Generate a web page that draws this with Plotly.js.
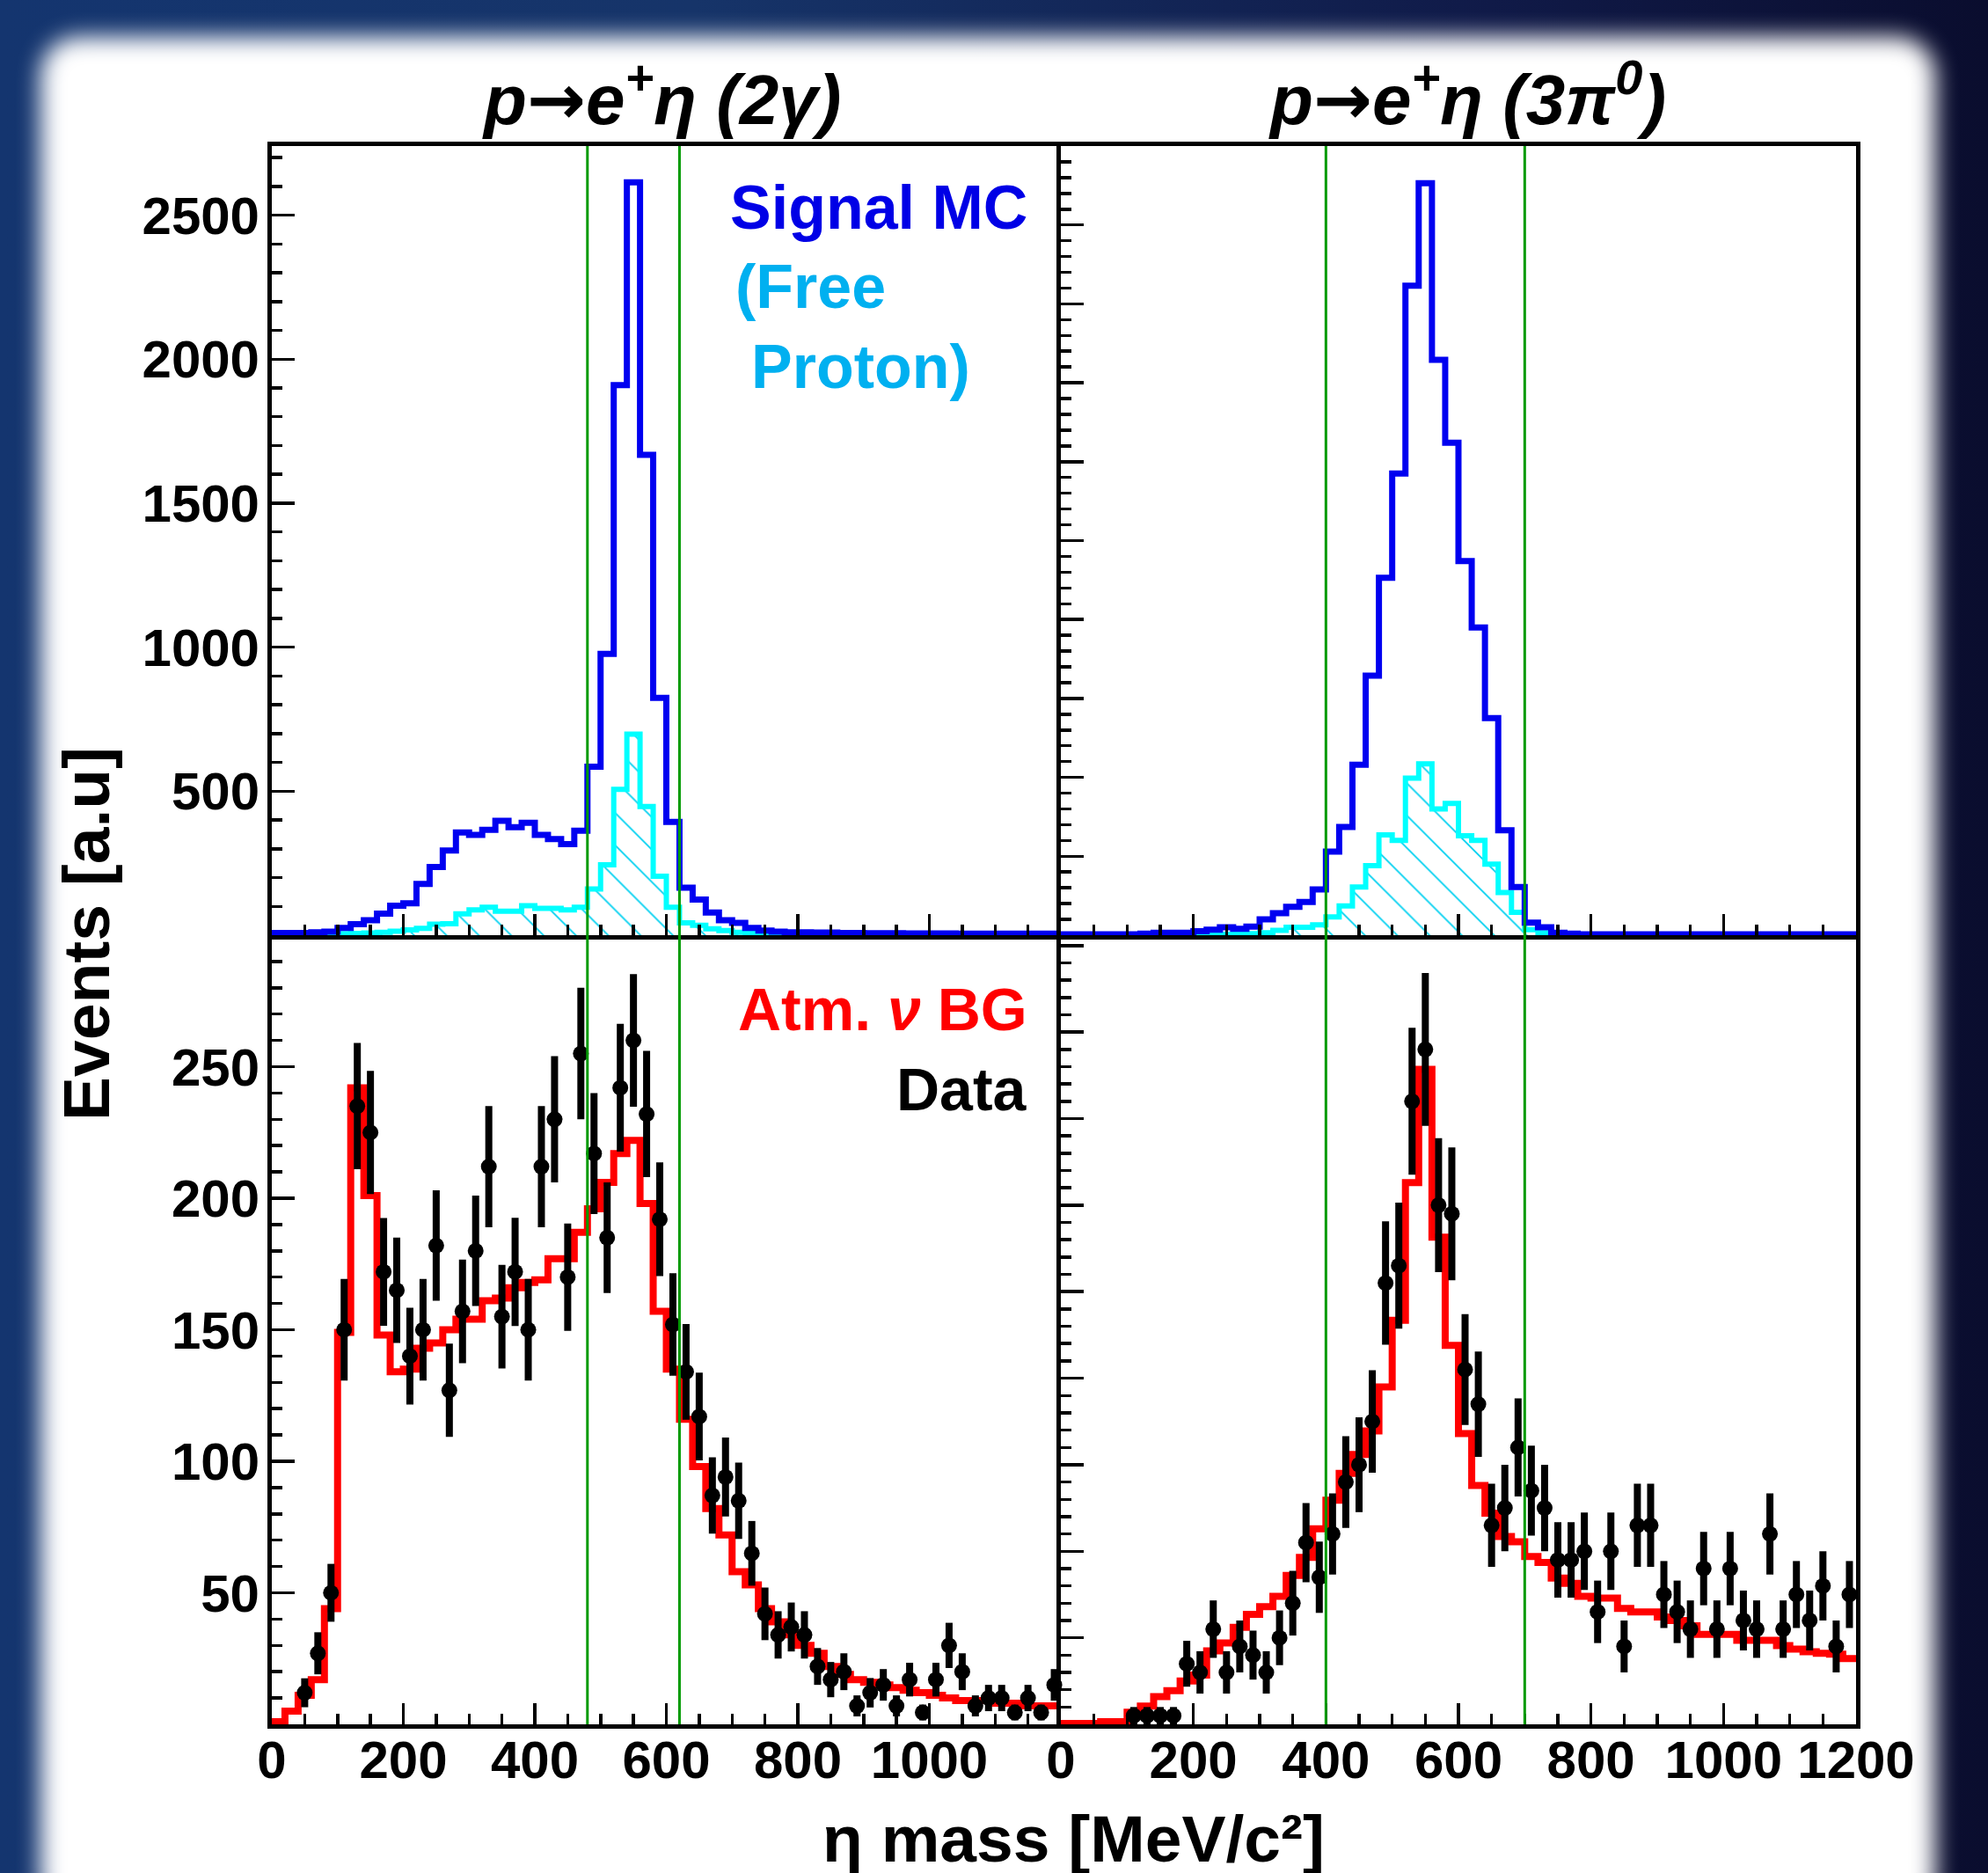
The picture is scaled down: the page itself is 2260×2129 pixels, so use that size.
<!DOCTYPE html>
<html><head><meta charset="utf-8">
<script src="https://cdn.plot.ly/plotly-3.0.1.min.js"></script>
<style>
html,body{margin:0;padding:0;}
body{width:2260px;height:2129px;overflow:hidden;position:relative;
 background:linear-gradient(to right,#14356f 0%,#163469 35%,#101a48 75%,#0a0d2e 100%);}
#card{position:absolute;left:46px;top:42px;width:2154px;height:2140px;background:#fff;border-radius:44px;filter:blur(13px);}
#plot{position:absolute;left:0;top:0;width:2260px;height:2129px;}
</style></head><body><div id="card"></div><div id="plot"></div>
<script>
// ---------------- data (20 MeV bins, 0-1200 MeV) ----------------
const nBins = 60, binWidth = 20;
const massEdges = Array.from({length: nBins + 1}, (_, i) => i * binWidth);
const massCenters = Array.from({length: nBins}, (_, i) => i * binWidth + binWidth / 2);

// p -> e+ eta (2gamma): signal MC (all) and free-proton component
const sig2gAll = [8,8,8,10,12,25,38,52,75,102,
  111,178,237,294,357,348,366,397,375,390,
  348,334,316,363,585,977,1910,2614,1668,824,
  393,165,124,79,52,43,25,16,12,10,
  10,9,9,8,8,7,7,7,6,6,
  6,6,5,5,5,5,5,5,5,5];
const sig2gFree = [2,2,2,3,3,5,6,8,10,14,
  18,24,38,40,74,88,97,83,83,102,
  93,93,88,97,160,244,506,698,447,205,
  97,43,34,22,16,10,8,6,5,4,
  4,3,3,3,3,2,2,2,2,2,
  2,2,2,2,2,2,2,2,2,2];
// p -> e+ eta (3pi0)
const sig3pAll = [1,1,1,1,1,1,2,3,3,3,
  5,7,10,8,11,20,28,36,42,58,
  106,137,216,329,453,585,823,953,729,624,
  474,390,275,133,61,16,10,3,2,1,
  1,1,1,1,1,1,1,1,1,1,
  1,1,1,1,1,1,1,1,1,1];
const sig3pFree = [0,0,0,0,0,0,0,0,0,1,
  1,1,1,1,2,3,6,10,10,13,
  23,37,61,88,127,120,199,217,160,167,
  126,120,90,54,29,7,3,1,0,0,
  0,0,0,0,0,0,0,0,0,0,
  0,0,0,0,0,0,0,0,0,0];

// Atmospheric neutrino background MC
const bg2g = [1,5,11,17,44,149,242,201,148,134,
  135,143,145,150,154,154,161,162,166,168,
  169,177,177,187,196,206,217,222,198,157,
  135,116,98,82,72,58,53,44,39,34,
  30,27,22,19,17,16,15,14,13,12,
  11,10,9,9,9,8,8,7,7,7];
const bg3p = [0.1,0.1,0.1,0.3,0.3,1.4,2.1,3.2,3.9,5.0,
  5.7,8.5,9.4,11.2,12.7,13.6,14.8,17.2,19.3,22.6,
  25.9,29.0,31.2,33.9,39.0,46.7,62.6,75.7,56.3,43.8,
  33.6,27.6,24.4,21.7,21.1,19.4,18.7,16.9,16.3,14.8,
  14.6,14.6,13.4,13.0,13.0,12.4,12.0,11.4,10.4,10.4,
  10.4,9.7,9.7,9.7,9.1,8.7,8.4,8.2,8.1,7.6];

// Data
const data2g = [null,null,12,27,50,150,235,225,172,165,
  140,150,182,127,157,180,212,155,172,150,
  212,230,170,255,217,185,242,260,232,192,
  152,134,117,87,94,85,65,42,34,37,
  34,22,17,20,7,12,15,7,17,4.5,
  17,30,20,7,10,10,4.5,10,4.5,15];
const data2gErr = [null,null,5.5,8,11,19.3,24,23.4,20.5,20,
  18.4,19.3,21,17.7,19.7,21,23,19.7,20.6,19.3,
  23,24,20.4,25,23,21,24.3,25.2,24,21.6,
  19.5,18.2,16.7,14.5,15,14.5,12.3,10,9,9.3,
  9,7,6.7,7,4,5.6,6,4,6.4,3,
  6.4,8.6,7,4,5,5,3,5,3,6];
const data3p = [null,null,null,null,null,1,1,1,1,7,
  6,11,6,9,8,6,10,14,21,17,
  22,28,30,35,51,53,72,78,60,59,
  41,37,23,25,32,27,25,19,19,20,
  13,20,9,23,23,15,13,11,18,11,
  18,12,11,22,11,15,12,16,9,15];
const data3pErr = [null,null,null,null,null,1,1,1,1,2.65,
  2.45,3.32,2.45,3,2.83,2.45,3.16,3.74,4.58,4.12,
  4.69,5.29,5.48,5.92,7.14,7.28,8.49,8.83,7.75,7.68,
  6.4,6.08,4.8,5,5.66,5.2,5,4.36,4.36,4.47,
  3.61,4.47,3,4.8,4.8,3.87,3.61,3.32,4.24,3.32,
  4.24,3.46,3.32,4.69,3.32,3.87,3.46,4,3,3.87];

// selection windows [MeV]
const cut2g = [480, 620];
const cut3p = [400, 700];

// tick labels
const xTicksLeft = [0,200,400,600,800,1000];
const xTicksRight = [0,200,400,600,800,1000,1200];
const yTicksTop = [500,1000,1500,2000,2500];
const yTicksBottom = [50,100,150,200,250];

// ---------------- drawing ----------------
const FONT = 'Liberation Sans, Arial, sans-serif';
const stepY = v => v.concat([v[v.length - 1]]);

const BLUE = '#0000f0', CYAN = '#00ffff', RED = '#ff0000', GREEN = '#009a00';

function hist(vals, color, width, xa, ya, hatch) {
  const t = {x: massEdges, y: stepY(vals), mode: 'lines', type: 'scatter',
    line: {shape: 'hv', color: color, width: width}, xaxis: xa, yaxis: ya,
    hoverinfo: 'skip', showlegend: false};
  if (hatch) {
    t.fill = 'tozeroy';
    t.fillcolor = 'rgba(0,0,0,0)';
    t.fillpattern = {shape: '\\', fgcolor: '#00d0f0', bgcolor: 'rgba(0,0,0,0)', size: 26, solidity: 0.07};
  }
  return t;
}
function points(vals, errs, xa, ya) {
  return {x: massCenters, y: vals, mode: 'markers', type: 'scatter', xaxis: xa, yaxis: ya,
    marker: {color: '#000', size: 18, symbol: 'circle'},
    error_y: {type: 'data', array: errs, visible: true, color: '#000', thickness: 8, width: 0},
    hoverinfo: 'skip', showlegend: false, cliponaxis: false};
}

const traces = [
  hist(sig2gFree, CYAN, 6, 'x', 'y', true),
  hist(sig2gAll, BLUE, 7, 'x', 'y'),
  hist(sig3pFree, CYAN, 6, 'x2', 'y2', true),
  hist(sig3pAll, BLUE, 7, 'x2', 'y2'),
  hist(bg2g, RED, 8, 'x3', 'y3'),
  points(data2g, data2gErr, 'x3', 'y3'),
  hist(bg3p, RED, 8, 'x4', 'y4'),
  points(data3p, data3pErr, 'x4', 'y4')
];

const W = 2260, H = 2129;
const xL = [309 / W, 1206 / W], xR = [1206 / W, 2110 / W];
const yT = [1 - 1063 / H, 1 - 166 / H], yB = [1 - 1960 / H, 1 - 1063 / H];

const tickFont = {family: FONT, size: 60, color: '#000', weight: 'bold'};
function xax(domain, anchor, labels, mirror) {
  const a = {domain: domain, anchor: anchor, range: [0, 1200], showline: true, mirror: mirror,
    linecolor: '#000', linewidth: 5, ticks: 'inside', ticklen: 24, tickwidth: 3.5, tickcolor: '#000',
    showgrid: false, zeroline: false, fixedrange: true, tickfont: tickFont, ticklabelstandoff: -16,
    minor: {ticks: 'inside', ticklen: 12, tickwidth: 3.5, tickcolor: '#000', tickmode: 'linear', tick0: 0, dtick: 50, showgrid: false}};
  if (labels) { a.tickmode = 'array'; a.tickvals = labels; a.ticktext = labels.map(String); a.showticklabels = true; }
  else { a.tickmode = 'linear'; a.tick0 = 0; a.dtick = 200; a.showticklabels = false; }
  return a;
}
function yax(domain, anchor, range, major, minor, labels, mirror) {
  const a = {domain: domain, anchor: anchor, range: range, showline: true, mirror: mirror,
    linecolor: '#000', linewidth: 5, ticks: 'inside', ticklen: 26, tickwidth: 3.5, tickcolor: '#000',
    showgrid: false, zeroline: false, fixedrange: true, tickfont: tickFont, ticklabelstandoff: -3,
    minor: {ticks: 'inside', ticklen: 12, tickwidth: 3.5, tickcolor: '#000', tickmode: 'linear', tick0: 0, dtick: minor, showgrid: false}};
  if (labels) { a.tickmode = 'array'; a.tickvals = labels; a.ticktext = labels.map(String); a.showticklabels = true; }
  else { a.tickmode = 'linear'; a.tick0 = 0; a.dtick = major; a.showticklabels = false; }
  return a;
}

function vline(x, xref) {
  return {type: 'line', xref: xref, yref: 'paper', x0: x, x1: x, y0: yB[0], y1: yT[1],
    line: {color: GREEN, width: 3}, layer: 'above'};
}
const shapes = [vline(cut2g[0], 'x'), vline(cut2g[1], 'x'), vline(cut3p[0], 'x2'), vline(cut3p[1], 'x2')];

function ann(text, px, py, size, color, xanchor, extra) {
  return Object.assign({text: text, xref: 'paper', yref: 'paper', x: px / W, y: 1 - py / H,
    xanchor: xanchor || 'center', yanchor: 'middle', showarrow: false,
    font: {family: FONT, size: size, color: color, weight: 'bold'}}, extra || {});
}
const titleFont = {family: FONT, size: 80, color: '#000', weight: 'bold', style: 'italic'};
const ARROW = '<span style="font-family:DejaVu Sans;font-style:normal">→</span>';
const annotations = [
  ann('p' + ARROW + 'e<sup>+</sup>η (2γ)', 752, 108, 80, '#000', 'center', {font: titleFont}),
  ann('p' + ARROW + 'e<sup>+</sup>η (3π<sup>0</sup>)', 1668, 108, 80, '#000', 'center', {font: titleFont}),
  ann('Signal MC', 1170, 236, 70, '#0000e6', 'right'),
  ann('(Free', 834, 326, 70, '#00b0f0', 'left'),
  ann('Proton)', 852, 417, 70, '#00b0f0', 'left'),
  ann('Atm. <i>ν</i> BG', 1170, 1147, 68, '#ff0000', 'right'),
  ann('Data', 1170, 1238, 68, '#000', 'right'),
  ann('Events [a.u]', 98, 1062, 75, '#000', 'center', {textangle: -90}),
  ann('η mass [MeV/c²]', 1220, 2090, 75, '#000', 'center')
];

const layout = {
  width: W, height: H, margin: {l: 0, r: 0, t: 0, b: 0},
  paper_bgcolor: 'rgba(0,0,0,0)', plot_bgcolor: 'rgba(0,0,0,0)',
  showlegend: false, font: {family: FONT, color: '#000'},
  xaxis: xax(xL, 'y', null, true),
  yaxis: yax(yT, 'x', [0, 2740], 500, 100, yTicksTop, false),
  xaxis2: xax(xR, 'y2', null, true),
  yaxis2: yax(yT, 'x2', [0, 1000], 100, 20, null, true),
  xaxis3: xax(xL, 'y3', xTicksLeft, false),
  yaxis3: yax(yB, 'x3', [0, 300], 50, 10, yTicksBottom, false),
  xaxis4: xax(xR, 'y4', xTicksRight, false),
  yaxis4: yax(yB, 'x4', [0, 91.2], 10, 2, null, true),
  shapes: shapes, annotations: annotations
};

Plotly.newPlot('plot', traces, layout, {displayModeBar: false, staticPlot: true});
</script></body></html>
